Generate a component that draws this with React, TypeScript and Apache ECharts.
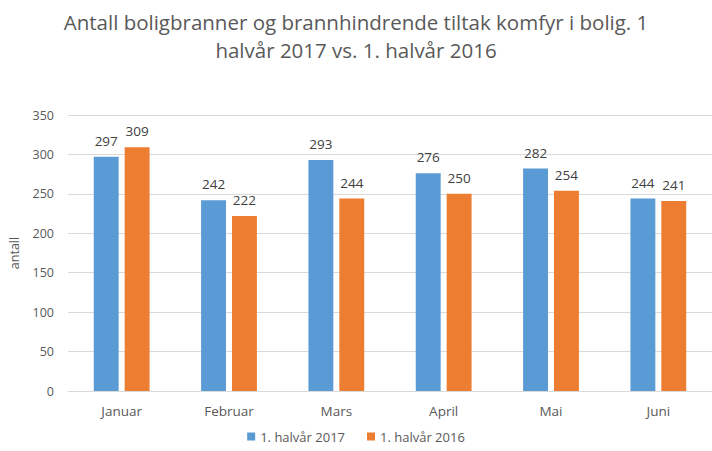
import React, { useEffect, useRef } from "react";
import * as echarts from "echarts";

const categories = ["Januar", "Februar", "Mars", "April", "Mai", "Juni"];
const series2017 = [297, 242, 293, 276, 282, 244];
const series2016 = [309, 222, 244, 250, 254, 241];
const seriesNames = ["1. halvår 2017", "1. halvår 2016"];
const titleText = "Antall boligbranner og brannhindrende tiltak komfyr i bolig. 1\nhalvår 2017 vs. 1. halvår 2016";

const FONT = "'Open Sans', sans-serif";

export default function App() {
  const ref = useRef<HTMLDivElement>(null);
  useEffect(() => {
    if (!ref.current) return;
    const chart = echarts.init(ref.current, undefined, { renderer: "svg" });
    const labelStyle = {
      show: true,
      position: "top" as const,
      color: "#404040",
      fontSize: 13.5,
      fontFamily: FONT,
      distance: 9,
    };
    chart.setOption({
      animation: false,
      backgroundColor: "#ffffff",
      title: {
        text: titleText,
        left: "center",
        top: 3,
        textStyle: {
          color: "#595959",
          fontSize: 20.5,
          fontWeight: "normal",
          fontFamily: FONT,
          lineHeight: 28,
        },
      },
      legend: {
        bottom: 3,
        left: "center",
        itemWidth: 8,
        itemHeight: 8,
        itemGap: 22,
        icon: "rect",
        textStyle: { color: "#595959", fontSize: 13, fontFamily: FONT },
        data: seriesNames,
      },
      grid: { left: 64, right: -4, top: 115, bottom: 60, containLabel: false },
      xAxis: {
        type: "category",
        data: categories,
        axisLine: { show: true, lineStyle: { color: "#d9d9d9" } },
        axisTick: { show: false },
        axisLabel: { color: "#595959", fontSize: 13.5, fontFamily: FONT, margin: 13 },
      },
      yAxis: {
        type: "value",
        min: 0,
        max: 350,
        interval: 50,
        name: "antall",
        nameLocation: "middle",
        nameGap: 47,
        nameTextStyle: { color: "#595959", fontSize: 12.5, fontFamily: FONT },
        axisLine: { show: false },
        axisTick: { show: false },
        axisLabel: { color: "#595959", fontSize: 12.5, fontFamily: FONT, margin: 14 },
        splitLine: { lineStyle: { color: "#d9d9d9" } },
      },
      series: [
        {
          name: seriesNames[0],
          type: "bar",
          data: series2017,
          itemStyle: { color: "#5B9BD5" },
          barGap: "24%",
          barCategoryGap: "48%",
          label: labelStyle,
        },
        {
          name: seriesNames[1],
          type: "bar",
          data: series2016,
          itemStyle: { color: "#ED7D31" },
          barGap: "24%",
          barCategoryGap: "48%",
          label: labelStyle,
        },
      ],
    });
    return () => chart.dispose();
  }, []);
  return <div ref={ref} style={{ width: 712, height: 451, position: "absolute", left: 0, top: 0 }} />;
}
